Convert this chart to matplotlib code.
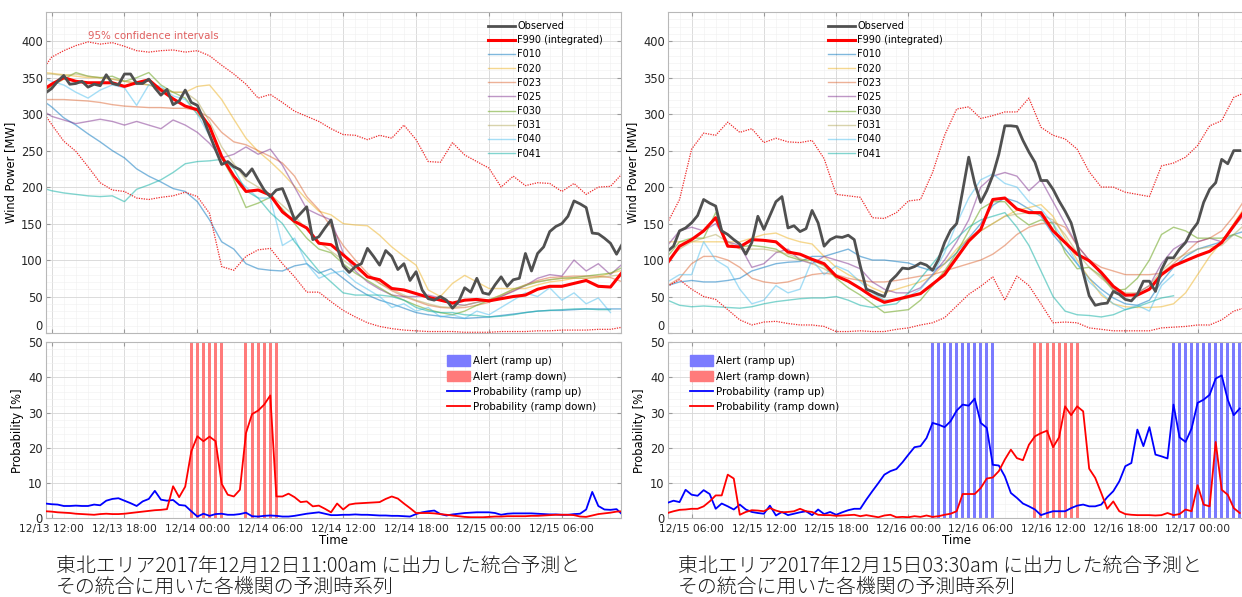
import numpy as np
import matplotlib
matplotlib.use("Agg")
import matplotlib.pyplot as plt
import matplotlib.dates as mdates
from matplotlib.ticker import MultipleLocator
from matplotlib.patches import Patch

plt.rcParams['font.family'] = ['DejaVu Sans', 'Noto Sans CJK JP']

nan = np.nan

# ---------------- left case: forecast issued 2017-12-12 11:00 ----------------
L_half_start = np.datetime64("2017-12-13T11:30")   # half-hourly series
L_hour_start = np.datetime64("2017-12-13T11:00")   # hourly series

L_observed = [329, 335, 345, 353, 341, 342, 345, 337, 341, 339,
              354, 342, 340, 355, 355, 342, 342, 348, 336, 326,
              334, 313, 318, 333, 316, 312, 293, 272, 251, 231,
              235, 228, 224, 215, 225, 210, 196, 187, 196, 198,
              178, 155, 164, 173, 128, 132, 144, 155, 118, 92,
              83, 91, 95, 116, 105, 93, 113, 105, 87, 95,
              72, 84, 59, 47, 45, 50, 45, 34, 43, 62,
              56, 75, 55, 53, 66, 77, 64, 73, 75, 109,
              85, 109, 118, 139, 146, 150, 160, 181, 177, 172,
              137, 136, 130, 123, 108, 123]

L_f990 = [330, 341, 350, 345, 343, 343, 343, 338, 343, 347,
          333, 321, 311, 306, 283, 242, 215, 194, 196, 189,
          166, 153, 144, 123, 121, 107, 93, 77, 73, 61,
          59, 54, 49, 45, 41, 45, 46, 44, 47, 50,
          52, 60, 64, 64, 68, 72, 64, 63, 84]
L_ci_hi = [355, 378, 387, 394, 399, 396, 398, 393, 387, 385,
           387, 388, 385, 387, 380, 367, 355, 341, 322, 327,
           316, 304, 297, 290, 280, 272, 271, 265, 271, 267,
           285, 265, 235, 234, 261, 244, 235, 226, 200, 215,
           202, 206, 205, 194, 205, 190, 200, 201, 219]
L_ci_lo = [310, 286, 263, 249, 228, 206, 196, 194, 185, 183,
           186, 188, 193, 187, 164, 91, 86, 105, 114, 116,
           95, 77, 56, 56, 43, 31, 22, 14, 9, 6,
           4, 3, 2, 2, 2, 1, 1, 1, 2, 2,
           2, 3, 3, 4, 4, 4, 5, 5, 8]
L_f010 = [322, 310, 295, 285, 273, 262, 250, 240, 225, 215,
          207, 198, 194, 180, 155, 125, 115, 95, 88, 86,
          85, 92, 95, 82, 88, 75, 62, 52, 45, 40,
          34, 28, 25, 23, 21, 20, 21, 22, 24, 26,
          28, 30, 31, 31, 32, 33, 33, 33, 33]
L_f020 = [358, 356, 354, 352, 350, 350, 348, 345, 342, 340,
          335, 330, 330, 338, 340, 320, 293, 267, 249, 235,
          219, 201, 183, 167, 162, 150, 148, 147, 134, 118,
          105, 93, 59, 50, 68, 79, 70, 61, 61, 61,
          61, 66, 70, 72, 75, 75, 77, 82, 86]
L_f023 = [320, 320, 320, 319, 318, 316, 313, 311, 310, 309,
          309, 308, 308, 305, 295, 275, 262, 258, 250, 242,
          233, 215, 187, 169, 146, 120, 100, 82, 68, 58,
          50, 44, 38, 35, 34, 35, 38, 42, 50, 58,
          66, 72, 76, 77, 78, 78, 78, 76, 70]
L_f025 = [308, 297, 292, 287, 290, 293, 290, 285, 290, 285,
          280, 292, 285, 275, 260, 240, 245, 255, 245, 252,
          230, 200, 170, 162, 155, 110, 85, 70, 60, 52,
          50, 50, 52, 48, 40, 38, 42, 45, 50, 57,
          65, 75, 80, 78, 100, 85, 95, 80, 95]
L_f030 = [328, 338, 348, 357, 352, 350, 352, 345, 350, 357,
          340, 330, 322, 300, 285, 240, 210, 172, 178, 186,
          170, 150, 130, 115, 110, 95, 82, 72, 62, 52,
          45, 38, 32, 28, 25, 30, 38, 45, 52, 60,
          65, 70, 73, 75, 76, 78, 80, 82, 90]
L_f031 = [355, 355, 353, 355, 352, 350, 348, 345, 343, 340,
          335, 330, 330, 318, 290, 255, 232, 210, 200, 190,
          175, 160, 142, 125, 112, 100, 88, 78, 68, 60,
          52, 45, 40, 36, 35, 38, 42, 46, 52, 60,
          66, 70, 73, 75, 75, 75, 76, 78, 80]
L_f040 = [352, 345, 340, 330, 322, 333, 340, 336, 312, 340,
          338, 325, 320, 300, 270, 240, 215, 200, 185, 185,
          120, 130, 95, 75, 82, 85, 70, 60, 50, 35,
          40, 30, 35, 22, 25, 20, 30, 25, 35, 45,
          55, 50, 62, 45, 55, 40, 48, 28, nan]
L_f041 = [200, 195, 192, 190, 188, 187, 188, 180, 197, 203,
          210, 220, 232, 235, 236, 238, 225, 195, 185, 165,
          150, 125, 105, 85, 70, 55, 52, 52, 52, 50,
          45, 35, 30, 28, 28, 25, 24, 22, 23, 25,
          28, 30, 31, 32, 33, 33, 32, 32, nan]

L_prob_up = [4.2, 4.0, 3.9, 3.5, 3.5, 3.6, 3.5, 3.5, 3.9, 3.7,
             5.0, 5.5, 5.7, 5.0, 4.3, 3.5, 4.8, 5.5, 7.8, 5.3,
             5.0, 5.2, 3.8, 3.6, 2.0, 0.5, 1.3, 0.7, 1.2, 1.3,
             1.0, 1.0, 1.2, 1.6, 0.6, 0.5, 0.7, 0.8, 0.7, 0.5,
             0.5, 0.7, 1.0, 1.3, 1.5, 1.7, 1.3, 0.9, 0.9, 1.0,
             1.0, 1.1, 1.0, 1.0, 0.9, 0.8, 0.8, 0.7, 0.7, 0.6,
             0.5, 1.2, 1.7, 2.0, 2.2, 1.2, 0.8, 1.1, 1.3, 1.5,
             1.6, 1.7, 1.7, 1.7, 1.5, 1.0, 1.3, 1.4, 1.4, 1.4,
             1.4, 1.3, 1.2, 1.1, 1.1, 1.0, 1.0, 1.2, 1.3, 2.5,
             7.5, 3.5, 2.5, 2.4, 2.6, 1.0]
L_prob_down = [2.0, 1.9, 1.7, 1.6, 1.5, 1.3, 1.2, 1.1, 1.0, 1.2,
               1.3, 1.2, 1.2, 1.3, 1.5, 1.7, 1.9, 2.1, 2.3, 2.4,
               2.6, 9.1, 6.0, 9.0, 19.0, 23.3, 21.9, 23.2, 21.9, 9.8,
               6.7, 6.2, 8.1, 24.2, 29.6, 30.6, 32.3, 34.9, 6.2, 6.2,
               7.0, 6.0, 4.6, 4.8, 3.4, 3.6, 2.7, 1.7, 4.2, 2.5,
               3.9, 4.2, 4.3, 4.4, 4.5, 4.6, 5.5, 6.2, 5.6, 4.2,
               2.9, 1.5, 1.5, 1.5, 1.4, 1.2, 1.0, 0.8, 0.6, 0.4,
               0.3, 0.3, 0.3, 0.4, 0.5, 0.5, 0.6, 0.6, 0.6, 0.6,
               0.7, 0.7, 0.8, 0.9, 1.0, 1.0, 1.0, 0.9, 0.5, 0.4,
               0.8, 1.2, 1.4, 1.6, 1.9, 2.0]
L_alert_up = [0] * 96
L_alert_down = [0] * 24 + [1] * 6 + [0] * 3 + [1] * 6 + [0] * 57

# ---------------- right case: forecast issued 2017-12-15 03:30 ----------------
R_half_start = np.datetime64("2017-12-15T04:00")
R_hour_start = np.datetime64("2017-12-15T04:00")

R_observed = [112, 119, 140, 144, 151, 161, 183, 178, 174, 140,
              135, 128, 122, 108, 124, 160, 142, 161, 180, 187,
              144, 147, 139, 143, 168, 151, 119, 128, 132, 131,
              134, 128, 92, 60, 57, 53, 50, 71, 79, 89,
              88, 91, 96, 93, 86, 101, 124, 141, 150, 195,
              241, 205, 179, 195, 216, 245, 284, 284, 283, 264,
              248, 234, 209, 209, 197, 181, 167, 151, 122, 83,
              51, 38, 40, 41, 57, 53, 46, 44, 53, 71,
              71, 57, 87, 103, 103, 115, 124, 140, 151, 179,
              197, 206, 238, 232, 250, 250]

R_f990 = [96, 119, 128, 140, 158, 119, 118, 128, 127, 125,
          111, 108, 101, 95, 78, 71, 61, 50, 42, 46,
          50, 54, 67, 80, 103, 126, 142, 183, 185, 170,
          165, 165, 140, 124, 108, 99, 83, 64, 52, 52,
          60, 80, 92, 99, 106, 112, 124, 147, 170]
R_ci_hi = [151, 183, 252, 274, 271, 289, 275, 280, 261, 267,
           262, 261, 264, 239, 190, 188, 186, 158, 157, 165,
           181, 183, 220, 271, 307, 310, 294, 298, 303, 303,
           322, 282, 271, 266, 252, 221, 200, 200, 193, 190,
           187, 229, 233, 241, 257, 284, 291, 323, 330]
R_ci_lo = [64, 73, 60, 50, 46, 32, 18, 11, 15, 16,
           13, 11, 11, 9, 2, 2, 3, 2, 2, 5,
           7, 11, 14, 21, 37, 53, 64, 77, 45, 78,
           65, 40, 14, 15, 14, 7, 5, 3, 3, 3,
           3, 7, 8, 9, 11, 11, 18, 30, 35]
R_f010 = [65, 70, 72, 70, 70, 72, 75, 85, 90, 95,
          97, 98, 105, 105, 110, 115, 105, 100, 100, 98,
          96, 90, 85, 95, 110, 130, 150, 175, 185, 180,
          170, 160, 135, 115, 95, 75, 60, 48, 40, 38,
          45, 70, 90, 105, 115, 120, 125, 135, 140]
R_f020 = [125, 125, 125, 125, 125, 125, 125, 130, 135, 137,
          130, 125, 122, 105, 90, 80, 72, 62, 55, 60,
          65, 70, 78, 95, 115, 130, 140, 150, 160, 168,
          172, 176, 160, 130, 100, 75, 52, 40, 36, 35,
          35, 36, 40, 55, 80, 105, 125, 150, 175]
R_f023 = [65, 75, 95, 105, 105, 100, 90, 75, 70, 68,
          70, 75, 80, 82, 80, 75, 72, 70, 70, 72,
          75, 78, 80, 85, 90, 95, 100, 108, 120, 135,
          145, 150, 152, 145, 120, 100, 90, 85, 80, 80,
          80, 82, 95, 110, 125, 130, 140, 160, 185]
R_f025 = [120, 140, 145, 140, 150, 125, 120, 90, 95, 110,
          115, 100, 95, 105, 100, 95, 88, 70, 60, 55,
          55, 62, 80, 100, 125, 155, 200, 215, 220, 215,
          195, 210, 180, 150, 120, 100, 80, 60, 50, 55,
          65, 95, 115, 125, 125, 130, 125, 145, 165]
R_f030 = [105, 125, 130, 130, 165, 120, 118, 120, 118, 115,
          105, 100, 100, 92, 75, 62, 52, 40, 28, 30,
          32, 45, 65, 85, 110, 140, 170, 180, 180, 160,
          148, 155, 150, 110, 88, 90, 78, 58, 60, 75,
          100, 135, 145, 140, 130, 130, 130, 135, 128]
R_f031 = [100, 115, 125, 130, 135, 125, 115, 115, 115, 112,
          108, 102, 95, 88, 78, 70, 62, 52, 45, 45,
          48, 55, 65, 85, 105, 125, 140, 150, 160, 163,
          165, 162, 155, 135, 110, 90, 75, 62, 55, 55,
          65, 85, 100, 108, 115, 118, 120, 135, 150]
R_f040 = [70, 80, 80, 125, 100, 90, 60, 40, 45, 65,
          55, 60, 100, 80, 92, 85, 70, 55, 45, 45,
          50, 60, 80, 110, 150, 185, 210, 218, 205, 200,
          180, 170, 150, 125, 95, 70, 55, 40, 32, 38,
          30, 65, 80, nan, nan, nan, nan, nan, nan]
R_f041 = [45, 38, 36, 37, 36, 35, 34, 36, 40, 43,
          45, 47, 48, 48, 50, 45, 38, 35, 38, 40,
          55, 75, 95, 115, 130, 145, 155, 160, 165, 145,
          120, 85, 50, 30, 25, 24, 22, 25, 32, 36,
          42, 48, 51, nan, nan, nan, nan, nan, nan]

R_prob_up = [4.4, 5.0, 4.6, 8.1, 6.7, 6.4, 8.0, 6.9, 2.7, 4.2,
             3.4, 2.5, 3.9, 2.5, 1.8, 1.5, 1.3, 3.6, 0.8, 1.8,
             0.9, 1.3, 1.7, 2.0, 0.9, 2.5, 1.2, 1.8, 1.0, 1.7,
             2.3, 2.7, 2.7, 5.3, 7.7, 10.0, 12.4, 13.4, 14.0, 15.9,
             18.1, 20.2, 20.5, 22.8, 27.1, 26.6, 25.9, 27.6, 30.6, 32.3,
             32.0, 34.0, 27.1, 25.7, 15.2, 15.0, 11.9, 7.2, 5.8, 4.2,
             3.4, 2.5, 0.9, 1.5, 2.0, 2.0, 2.0, 2.9, 3.6, 3.9,
             3.4, 3.4, 3.9, 6.0, 7.7, 10.5, 14.8, 15.7, 25.2, 20.5,
             25.9, 18.1, 17.6, 17.0, 32.3, 23.0, 21.7, 25.5, 32.8, 33.7,
             35.1, 39.7, 40.6, 33.7, 29.3, 31.2]
R_prob_down = [1.5, 2.0, 2.4, 2.5, 2.7, 2.7, 3.4, 4.8, 6.5, 6.5,
               12.4, 11.3, 1.0, 1.8, 2.3, 2.2, 2.0, 2.9, 2.2, 1.7,
               1.8, 2.0, 2.7, 2.0, 1.8, 1.0, 0.9, 0.9, 0.7, 0.8,
               0.9, 1.0, 0.6, 0.9, 0.6, 0.3, 0.8, 1.0, 0.3, 0.4,
               0.3, 0.6, 0.4, 0.8, 0.4, 0.6, 1.0, 1.3, 2.0, 6.9,
               6.9, 6.9, 8.6, 11.3, 11.6, 13.4, 16.7, 19.5, 17.1, 16.5,
               20.9, 23.3, 24.2, 24.9, 20.2, 23.0, 31.8, 29.3, 31.8, 30.4,
               14.1, 11.5, 7.2, 2.7, 4.8, 2.0, 1.2, 1.0, 0.9, 0.9,
               0.9, 0.8, 0.9, 1.5, 0.9, 1.2, 2.5, 2.0, 9.4, 3.9,
               3.4, 21.7, 8.1, 6.7, 2.9, 1.5]
R_alert_up = [0] * 44 + [1] * 11 + [0] * 29 + [1] * 12
R_alert_down = [0] * 61 + [1] * 8 + [0] * 27

L_caption = ["東北エリア2017年12月12日11:00am に出力した統合予測と", "その統合に用いた各機関の予測時系列"]
R_caption = ["東北エリア2017年12月15日03:30am に出力した統合予測と", "その統合に用いた各機関の予測時系列"]

forecast_names = ["F010", "F020", "F023", "F025", "F030", "F031", "F040", "F041"]
forecast_colors = [(0.0, 0.447, 0.741), (0.929, 0.694, 0.125), (0.85, 0.325, 0.098),
                   (0.494, 0.184, 0.556), (0.466, 0.674, 0.188), (0.70, 0.66, 0.35),
                   (0.301, 0.745, 0.933), (0.10, 0.70, 0.66)]
forecast_alpha = [0.5, 0.5, 0.45, 0.5, 0.6, 0.5, 0.5, 0.55]

ALERT_UP = "#7b7bff"
ALERT_DOWN = "#ff7b7b"


def times(start, n, minutes):
    return start + np.arange(n) * np.timedelta64(minutes, "m")


def style(ax, xlim, ylim, yticks, yminor):
    ax.set_xlim(mdates.date2num(xlim[0]), mdates.date2num(xlim[1]))
    ax.set_ylim(ylim)
    ax.set_yticks(yticks)
    ax.yaxis.set_minor_locator(MultipleLocator(yminor))
    ax.xaxis.set_major_locator(mdates.HourLocator(byhour=[0, 6, 12, 18]))
    ax.xaxis.set_minor_locator(mdates.HourLocator())
    ax.xaxis.set_major_formatter(mdates.DateFormatter("%m/%d %H:%M"))
    ax.grid(True, which="major", color="#d6d6d6", lw=0.6)
    ax.grid(True, which="minor", color="#efefef", lw=0.4)
    ax.set_axisbelow(True)
    ax.tick_params(which="major", direction="in", length=3, top=True, right=True,
                   color="#9a9a9a", labelcolor="#262626", labelsize=8.3, pad=2)
    ax.tick_params(axis="x", labelsize=7.7, pad=4)
    ax.tick_params(which="minor", length=0)
    for s in ax.spines.values():
        s.set_color("#b8b8b8")
        s.set_linewidth(0.8)


def draw_case(left, right_px, half_start, hour_start, xlim, observed, f990, ci_hi, ci_lo,
              forecasts, p_up, p_down, a_up, a_down, leg_w, leg_p, ci_text, caption):
    W, H = 1242.0, 597.0
    ax_w = fig.add_axes([left / W, (H - 333) / H, (right_px - left) / W, 321 / H])
    ax_p = fig.add_axes([left / W, (H - 518.3) / H, (right_px - left) / W, 176 / H])

    t_half = times(half_start, len(observed), 30)
    t_hour = times(hour_start, len(f990), 60)
    t_prob = times(half_start, len(p_up), 30)

    # wind power panel
    handles = []
    for vals, name, col, al in zip(forecasts, forecast_names, forecast_colors, forecast_alpha):
        h, = ax_w.plot(t_hour, vals, color=col, alpha=al, lw=1.0, label=name)
        handles.append(h)
    ax_w.plot(t_hour, ci_hi, color="#ee2a2a", lw=0.9, ls=(0, (1, 1)))
    ax_w.plot(t_hour, ci_lo, color="#ee2a2a", lw=0.9, ls=(0, (1, 1)))
    h990, = ax_w.plot(t_hour, f990, color="#ff0000", lw=2.2, label="F990 (integrated)")
    hobs, = ax_w.plot(t_half, observed, color="#505050", lw=2.0, label="Observed")
    style(ax_w, xlim, (0, 440), range(0, 401, 50), 10)
    ax_w.tick_params(labelbottom=False)
    # the "0" of the top panel sits right above the "50" of the bottom panel
    ax_w.get_yticklabels()[0].set_verticalalignment("bottom")
    ax_w.set_ylabel("Wind Power [MW]", fontsize=8.3, labelpad=3)
    ax_w.legend([hobs, h990] + handles, ["Observed", "F990 (integrated)"] + forecast_names,
                loc="upper left", bbox_to_anchor=(leg_w, 0.972), frameon=False, fontsize=7,
                labelspacing=0.43, handlelength=2.8, handletextpad=0.2, borderpad=0,
                borderaxespad=0)
    if ci_text:
        ax_w.text(0.074, 0.925, "95% confidence intervals", transform=ax_w.transAxes,
                  color="#e06060", fontsize=7.4, va="center")

    # probability panel
    bw = np.timedelta64(15, "m")
    ax_p.bar(t_prob, np.array(a_up) * 50, width=bw, color=ALERT_UP, lw=0, zorder=1.5)
    ax_p.bar(t_prob, np.array(a_down) * 50, width=bw, color=ALERT_DOWN, lw=0, zorder=1.5)
    hu, = ax_p.plot(t_prob, p_up, color="#0000ff", lw=1.3, zorder=3)
    hd, = ax_p.plot(t_prob, p_down, color="#ff0000", lw=1.3, zorder=3)
    style(ax_p, xlim, (0, 50), range(0, 51, 10), 2)
    ax_p.set_ylabel("Probability [%]", fontsize=8.3, labelpad=3)
    ax_p.set_xlabel("Time", fontsize=8.5, labelpad=0)
    ax_p.legend([Patch(color=ALERT_UP), Patch(color=ALERT_DOWN), hu, hd],
                ["Alert (ramp up)", "Alert (ramp down)", "Probability (ramp up)",
                 "Probability (ramp down)"],
                loc="upper left", bbox_to_anchor=(leg_p, 0.925), frameon=False, fontsize=7.4,
                labelspacing=0.45, handlelength=2.2, handleheight=1.2, handletextpad=0.3,
                borderpad=0, borderaxespad=0)

    for i, line in enumerate(caption):
        fig.text((left + 10) / W, (H - 566 - 21 * i) / H, line, fontsize=14.3, va="center",
                 family=["Noto Sans CJK JP", "DejaVu Sans"], weight="light", color="#1a1a1a")


fig = plt.figure(figsize=(12.42, 5.97), dpi=100)

L_xlim = (L_half_start, L_half_start + np.timedelta64(2842, "m"))
R_xlim = (R_half_start, R_half_start + np.timedelta64(2876, "m"))

draw_case(45.5, 621, L_half_start, L_hour_start, L_xlim, L_observed, L_f990, L_ci_hi, L_ci_lo,
          [L_f010, L_f020, L_f023, L_f025, L_f030, L_f031, L_f040, L_f041],
          L_prob_up, L_prob_down, L_alert_up, L_alert_down, 0.769, 0.698, True, L_caption)
draw_case(667.5, 1245, R_half_start, R_hour_start, R_xlim, R_observed, R_f990, R_ci_hi, R_ci_lo,
          [R_f010, R_f020, R_f023, R_f025, R_f030, R_f031, R_f040, R_f041],
          R_prob_up, R_prob_down, R_alert_up, R_alert_down, 0.278, 0.039, False, R_caption)

fig.savefig("out.png", dpi=100)
